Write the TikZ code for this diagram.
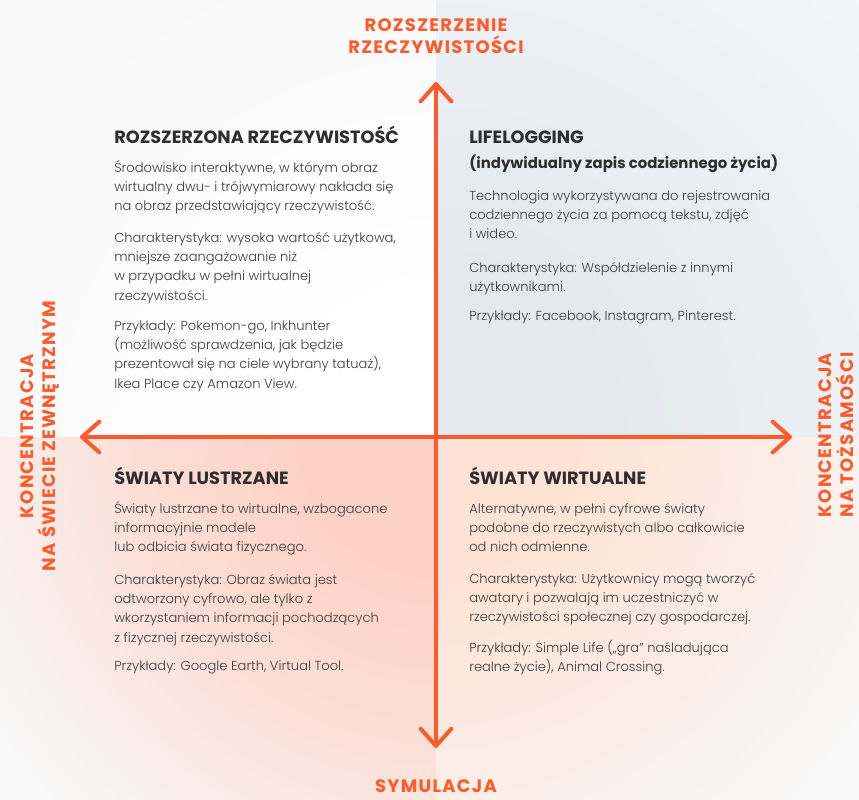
\documentclass[tikz,border=0pt]{standalone}
\usepackage{fontspec}
\setmainfont{Poppins}
\IfFontExistsTF{Poppins Light}{\newfontfamily\bodyfam{Poppins Light}}{\newfontfamily\bodyfam{Poppins}}
\usetikzlibrary{arrows.meta}
\definecolor{bgc}{HTML}{F8F8F8}
\definecolor{qTL}{HTML}{FFFFFF}
\definecolor{qTR}{HTML}{E4E9EF}
\definecolor{qBL}{HTML}{FDD2C6}
\definecolor{qBR}{HTML}{FDE3D5}
\definecolor{axisc}{HTML}{FF5A2B}
\definecolor{headc}{HTML}{2E2E2E}
\definecolor{bodyc}{HTML}{3E3E3E}
% circle radius 640pt = 853px corresponds to 25bp
\pgfdeclareradialshading{glowTL}{\pgfpoint{0bp}{0bp}}{color(0bp)=(qTL); color(4bp)=(qTL); color(15bp)=(bgc); color(50bp)=(bgc)}
\pgfdeclareradialshading{glowTR}{\pgfpoint{0bp}{0bp}}{color(0bp)=(qTR); color(5bp)=(qTR); color(11bp)=(qTR!65!bgc); color(20bp)=(bgc); color(50bp)=(bgc)}
\pgfdeclareradialshading{glowBL}{\pgfpoint{0bp}{0bp}}{color(0bp)=(qBL); color(4bp)=(qBL); color(9bp)=(qBL!65!bgc); color(15.5bp)=(bgc); color(50bp)=(bgc)}
\pgfdeclareradialshading{glowBR}{\pgfpoint{0bp}{0bp}}{color(0bp)=(qBR); color(4bp)=(qBR); color(9bp)=(qBR!60!bgc); color(15bp)=(bgc); color(50bp)=(bgc)}
\tikzset{
  axisline/.style={draw=axisc, line width=3pt, line cap=round,
    {Straight Barb[length=13pt,width=23pt,line cap=round,line join=round]}-{Straight Barb[length=13pt,width=23pt,line cap=round,line join=round]}},
  axislabel/.style={text=axisc, align=center, inner sep=0pt,
    font=\fontsize{13.5}{16.5}\selectfont\bfseries\addfontfeatures{LetterSpace=7}},
  headtxt/.style={text=headc, anchor=base west, inner sep=0pt,
    font=\fontsize{13.3}{16}\selectfont\bfseries},
  subtxt/.style={text=headc, anchor=base west, inner sep=0pt,
    font=\fontsize{11.2}{13}\selectfont\bfseries},
  bodytxt/.style={text=bodyc, anchor=base west, inner sep=0pt,
    font=\bodyfam\fontsize{9.8}{14.5}\selectfont},
}
\newcommand{\parblock}[1]{\begin{tabular}[t]{@{}l@{}}#1\end{tabular}}
\begin{document}
\begin{tikzpicture}[x=0.75pt,y=-0.75pt]
\useasboundingbox (0,0) rectangle (859,799);
\fill[bgc] (0,0) rectangle (859,799);
\coordinate (c) at (436,437);
\begin{scope}\clip (0,0) rectangle (436,437);
  \shade[shading=glowTL] (c) circle (640pt);\end{scope}
\begin{scope}\clip (436,0) rectangle (859,437);
  \shade[shading=glowTR] (c) circle (640pt);\end{scope}
\begin{scope}\clip (0,437) rectangle (436,799);
  \shade[shading=glowBL] (c) circle (640pt);\end{scope}
\begin{scope}\clip (436,437) rectangle (859,799);
  \shade[shading=glowBR] (c) circle (640pt);\end{scope}

% axes
\coordinate (top) at (436,82);
\coordinate (bottom) at (436,748);
\coordinate (left) at (80,437);
\coordinate (right) at (792,437);
\draw[axisline] (bottom) -- (top);
\draw[axisline] (left) -- (right);

% axis labels
\node[axislabel] (ltop) at (436,36) {ROZSZERZENIE\\RZECZYWISTOŚCI};
\node[axislabel] (lbot) at (436,786) {SYMULACJA};
\node[axislabel, rotate=90] (lleft) at (40,436) {KONCENTRACJA\\NA ŚWIECIE ZEWNĘTRZNYM};
\node[axislabel, rotate=90] (lright) at (836,435) {KONCENTRACJA\\NA TOŻSAMOŚCI};

% top-left
\node[headtxt] (tlh) at (114,143) {ROZSZERZONA RZECZYWISTOŚĆ};
\node[bodytxt] (tl1) at (114,172) {\parblock{Środowisko interaktywne, w którym obraz\\wirtualny dwu- i trójwymiarowy nakłada się\\na obraz przedstawiający rzeczywistość.}};
\node[bodytxt] (tl2) at (114,242) {\parblock{Charakterystyka: wysoka wartość użytkowa,\\mniejsze zaangażowanie niż\\w przypadku w pełni wirtualnej\\rzeczywistości.}};
\node[bodytxt] (tl3) at (114,330) {\parblock{Przykłady: Pokemon-go, Inkhunter\\(możliwość sprawdzenia, jak będzie\\prezentował się na ciele wybrany tatuaż),\\Ikea Place czy Amazon View.}};

% top-right
\node[headtxt] (trh) at (469,143) {LIFELOGGING};
\node[subtxt] (trs) at (469,168) {(indywidualny zapis codziennego życia)};
\node[bodytxt] (tr1) at (469,200) {\parblock{Technologia wykorzystywana do rejestrowania\\codziennego życia za pomocą tekstu, zdjęć\\i wideo.}};
\node[bodytxt] (tr2) at (469,272) {\parblock{Charakterystyka: Współdzielenie z innymi\\użytkownikami.}};
\node[bodytxt] (tr3) at (469,320) {\parblock{Przykłady: Facebook, Instagram, Pinterest.}};

% bottom-left
\node[headtxt] (blh) at (114,484) {ŚWIATY LUSTRZANE};
\node[bodytxt] (bl1) at (114,513) {\parblock{Światy lustrzane to wirtualne, wzbogacone\\informacyjnie modele\\lub odbicia świata fizycznego.}};
\node[bodytxt] (bl2) at (114,584) {\parblock{Charakterystyka: Obraz świata jest\\odtworzony cyfrowo, ale tylko z\\wkorzystaniem informacji pochodzących\\z fizycznej rzeczywistości.}};
\node[bodytxt] (bl3) at (114,670) {\parblock{Przykłady: Google Earth, Virtual Tool.}};

% bottom-right
\node[headtxt] (brh) at (469,484) {ŚWIATY WIRTUALNE};
\node[bodytxt] (br1) at (469,513) {\parblock{Alternatywne, w pełni cyfrowe światy\\podobne do rzeczywistych albo całkowicie\\od nich odmienne.}};
\node[bodytxt] (br2) at (469,583) {\parblock{Charakterystyka: Użytkownicy mogą tworzyć\\awatary i pozwalają im uczestniczyć w\\rzeczywistości społecznej czy gospodarczej.}};
\node[bodytxt] (br3) at (469,652) {\parblock{Przykłady: Simple Life („gra” naśladująca\\realne życie), Animal Crossing.}};
\end{tikzpicture}
\end{document}
